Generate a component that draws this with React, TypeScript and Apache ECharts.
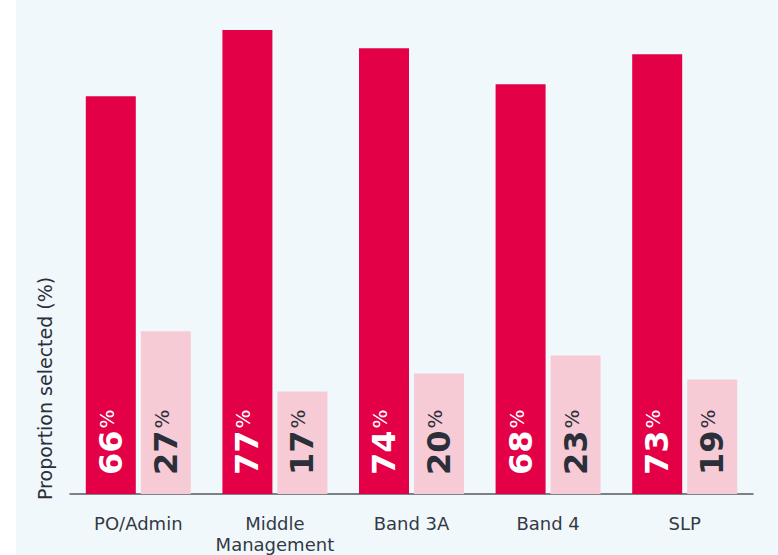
import React, { useEffect, useRef } from "react";
import * as echarts from "echarts";

const categories = ["PO/Admin", "Middle\nManagement", "Band 3A", "Band 4", "SLP"];
const seriesA = [66, 77, 74, 68, 73];
const seriesB = [27, 17, 20, 23, 19];
const yAxisTitle = "Proportion selected (%)";

const FONT = "'DejaVu Sans', 'Noto Sans', sans-serif";

export default function App() {
  const ref = useRef<HTMLDivElement>(null);
  useEffect(() => {
    document.body.style.margin = "0";
    const chart = echarts.init(ref.current!, null, { renderer: "svg" });
    const labelFor = (color: string) => ({
      show: true,
      position: "insideBottom",
      distance: 19,
      rotate: 90,
      align: "left",
      verticalAlign: "middle",
      formatter: "{n|{c}}{p|%}",
      rich: {
        n: { fontSize: 32, fontWeight: "bold", color, fontFamily: FONT },
        p: { fontSize: 20, color, fontFamily: FONT, verticalAlign: "top", padding: [2, 0, 0, 2] },
      },
    });
    chart.setOption({
      animation: false,
      backgroundColor: "transparent",
      textStyle: { fontFamily: FONT },
      graphic: [
        {
          type: "rect",
          z: -10,
          silent: true,
          shape: { x: 16, y: 0, width: 762, height: 555 },
          style: { fill: "#F1F8FB" },
        },
        {
          type: "text",
          x: 45,
          y: 500,
          rotation: Math.PI / 2,
          style: {
            text: yAxisTitle,
            fontSize: 19,
            fontFamily: FONT,
            fill: "#2a2f3a",
            align: "left",
            verticalAlign: "middle",
          },
        },
      ],
      grid: { left: 70, right: 25, top: 12, bottom: 58 },
      xAxis: {
        type: "category",
        data: categories,
        axisLine: { lineStyle: { color: "#555a60", width: 1.5 } },
        axisTick: { show: false },
        axisLabel: {
          color: "#333a45",
          fontSize: 18,
          lineHeight: 21,
          margin: 19,
          fontFamily: FONT,
          interval: 0,
        },
      },
      yAxis: {
        type: "value",
        min: 0,
        max: 80,
        axisLine: { show: false },
        axisTick: { show: false },
        axisLabel: { show: false },
        splitLine: { show: false },
      },
      series: [
        {
          type: "bar",
          data: seriesA,
          barWidth: 50,
          barGap: "10%",
          itemStyle: { color: "#E30047" },
          label: labelFor("#ffffff"),
        },
        {
          type: "bar",
          data: seriesB,
          barWidth: 50,
          itemStyle: { color: "#F7CBD5" },
          label: labelFor("#2a2f3a"),
        },
      ],
    });
    return () => chart.dispose();
  }, []);
  return (
    <div
      ref={ref}
      style={{ position: "absolute", left: 0, top: 0, width: 778, height: 555 }}
    />
  );
}
